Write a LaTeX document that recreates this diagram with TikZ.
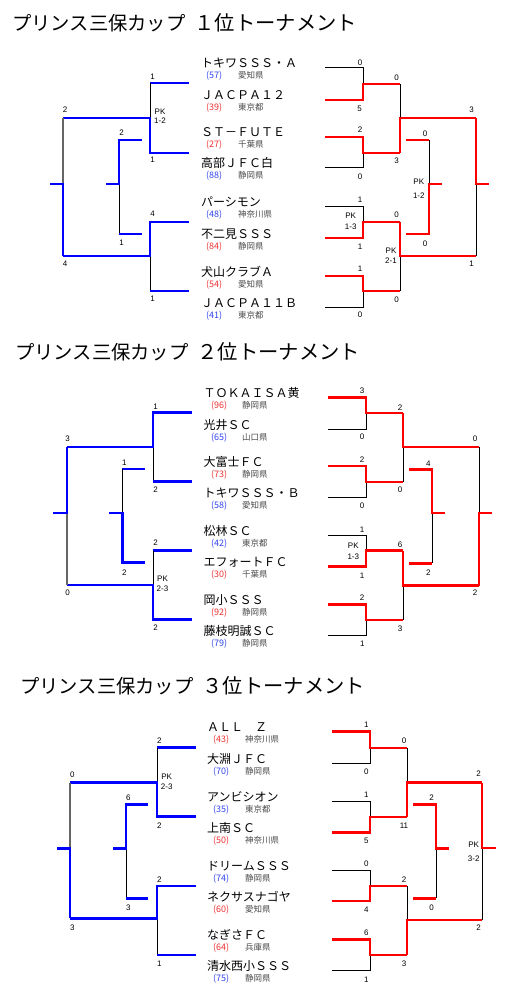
\documentclass[tikz,border=0pt]{standalone}
\usepackage{fontspec}
\setmainfont{Noto Sans CJK JP}
\newfontfamily\numfont{Liberation Sans}
\definecolor{winB}{RGB}{0,0,255}
\definecolor{winR}{RGB}{255,0,0}
\definecolor{seedB}{RGB}{50,70,240}
\definecolor{seedR}{RGB}{240,50,50}
\newcommand\rankpart[1]{{\fontsize{20.3}{22}\selectfont #1}}
\tikzset{
  wonB/.style={draw=winB,line width=2.8pt},
  wonR/.style={draw=winR,line width=2.8pt},
  lost/.style={draw=black,line width=1pt},
  lostG/.style={draw=black!60,line width=1.6pt},
  score/.style={font=\numfont\fontsize{8}{9.5}\selectfont,inner sep=0pt},
  pk/.style={score,align=center},
  team/.style={anchor=base west,inner sep=0pt,font=\fontsize{12}{14}\selectfont},
  seed/.style={anchor=base west,inner sep=0pt,font=\fontsize{9}{10}\selectfont},
  pref/.style={anchor=base west,inner sep=0pt,font=\fontsize{8.5}{10}\selectfont,text=black!70},
  title/.style={anchor=west,inner sep=0pt,font=\fontsize{19.3}{22}\selectfont}
}
\begin{document}
\begin{tikzpicture}[x=1pt,y=-1pt]
\useasboundingbox (0,0) rectangle (517,1000);
\fill[white] (0,0) rectangle (517,1000);

% ---- 1位トーナメント ----
\node[title] (ttl1) at (12,22.5) {プリンス三保カップ\hspace{9pt}\rankpart{１位トーナメント}};
\foreach \y/\tm/\sd/\col/\pf [count=\i] in {68/トキワＳＳＳ・Ａ/57/seedB/愛知県, 100/ＪＡＣＰＡ１２/39/seedR/東京都, 137/ＳＴ－ＦＵＴＥ/27/seedR/千葉県, 168/高部ＪＦＣ白/88/seedB/静岡県, 207/パーシモン/48/seedB/神奈川県, 238/不二見ＳＳＳ/84/seedR/静岡県, 276/犬山クラブＡ/54/seedR/愛知県, 307/ＪＡＣＰＡ１１Ｂ/41/seedB/東京都}{
  \node[team] (a\i) at (201,\y) {\tm};
  \node[seed,text=\col] (a\i-sd) at (206,\y+11) {(\sd)};
  \node[pref] (a\i-pf) at (238,\y+11) {\pf};
}
% left side
\draw[wonB] (189,83)--(150,83);
\draw[lost] (150,83)--(150,118);
\draw[wonB] (189,153)--(150,153)--(150,118)--(63,118);
\draw[lost] (150,256)--(150,291);
\draw[wonB] (189,222)--(150,222)--(150,256)--(63,256);
\draw[wonB] (189,291)--(150,291);
\draw[lostG] (63,118)--(63,184);
\draw[wonB] (63,256)--(63,184)--(50,184);
\draw[lost] (119,184)--(119,234);
\draw[wonB] (142,140)--(119,140)--(119,184)--(106,184);
\draw[wonB] (142,234)--(119,234);
% right side
\draw[lost] (325,68)--(363,68)--(363,84);
\draw[wonR] (325,100)--(363,100)--(363,84)--(400,84);
\draw[lost] (325,168)--(363,168)--(363,153);
\draw[wonR] (325,137)--(363,137)--(363,153)--(400,153);
\draw[lost] (325,207)--(363,207)--(363,222);
\draw[wonR] (325,238)--(363,238)--(363,222)--(400,222);
\draw[lost] (325,307)--(363,307)--(363,291);
\draw[wonR] (325,276)--(363,276)--(363,291)--(400,291);
\draw[lost] (400,84)--(400,118);
\draw[wonR] (400,153)--(400,118)--(476,118);
\draw[lost] (400,291)--(400,256);
\draw[wonR] (400,222)--(400,256)--(476,256);
\draw[lost] (476,256)--(476,184);
\draw[wonR] (476,118)--(476,184)--(489,184);
\draw[lost] (429,140)--(429,184);
\draw[wonR] (406,140)--(429,140);
\draw[wonR] (406,234)--(429,234)--(429,184)--(442,184);
\foreach \x/\y/\t [count=\i] in {152.7/76.7/1, 152.7/160/1, 152.7/214/4, 152.7/298.3/1, 65/110/2, 65/263.3/4, 121.7/132.5/2, 121.7/243/1, 360/62.7/0, 359.5/108.3/5, 360/130/2, 360/176.7/0, 360/200/1, 360/246.7/1, 360/268.3/1, 360/315/0, 396.7/77.7/0, 396.7/161/3, 396.7/215/0, 396.7/299.3/0, 471.7/110/3, 471.7/263.3/1, 425/133.3/0, 425/243.3/0}
  \node[score] (a-s\i) at (\x,\y) {\t};
\node[pk] (a-pk1) at (160,116.5) {PK\\1-2};
\node[pk] (a-pk2) at (350.7,221.5) {PK\\[2pt]1-3};
\node[pk] (a-pk3) at (391,255.7) {PK\\2-1};
\node[pk] (a-pk4) at (418.8,188.7) {PK\\[4pt]1-2};

% ---- 2位トーナメント ----
\node[title] (ttl2) at (15,351.7) {プリンス三保カップ\hspace{9pt}\rankpart{２位トーナメント}};
\foreach \y/\tm/\sd/\col/\pf [count=\i] in {397.7/ＴＯＫＡＩＳＡ黄/96/seedR/静岡県, 429/光井ＳＣ/65/seedB/山口県, 466/大富士ＦＣ/73/seedR/静岡県, 497.7/トキワＳＳＳ・Ｂ/58/seedB/愛知県, 535/松林ＳＣ/42/seedB/東京都, 566.7/エフォートＦＣ/30/seedR/千葉県, 604.3/岡小ＳＳＳ/92/seedR/静岡県, 635/藤枝明誠ＳＣ/79/seedB/静岡県}{
  \node[team] (b\i) at (203.5,\y) {\tm};
  \node[seed,text=\col] (b\i-sd) at (211,\y+11) {(\sd)};
  \node[pref] (b\i-pf) at (242,\y+11) {\pf};
}
% left side
\draw[lost] (153,447)--(153,481.7);
\draw[wonB] (192,412.3)--(153,412.3)--(153,447)--(67,447);
\draw[wonB] (192,481.7)--(153,481.7);
\draw[wonB] (192,550.7)--(153,550.7);
\draw[lost] (153,550.7)--(153,585);
\draw[wonB] (192,619.3)--(153,619.3)--(153,585)--(67,585);
\draw[lostG] (67,513)--(67,585);
\draw[wonB] (67,447)--(67,513)--(53.3,513);
\draw[wonB] (145,469)--(122.3,469);
\draw[lost] (122.3,469)--(122.3,513);
\draw[wonB] (145,562.7)--(122.3,562.7)--(122.3,513)--(109,513);
% right side
\draw[lost] (328,429)--(366,429)--(366,413);
\draw[wonR] (328,397.7)--(366,397.7)--(366,413)--(403,413);
\draw[lost] (328,497.7)--(366,497.7)--(366,482);
\draw[wonR] (328,466)--(366,466)--(366,482)--(403,482);
\draw[lost] (328,535)--(366,535)--(366,550.5);
\draw[wonR] (328,566.7)--(366,566.7)--(366,550.5)--(403,550.5);
\draw[lost] (328,635)--(366,635)--(366,620);
\draw[wonR] (328,604.3)--(366,604.3)--(366,620)--(403,620);
\draw[lost] (403,482)--(403,447);
\draw[wonR] (403,413)--(403,447)--(479,447);
\draw[lost] (403,620)--(403,585.5);
\draw[wonR] (403,550.5)--(403,585.5)--(479,585.5);
\draw[lost] (479,447)--(479,513);
\draw[wonR] (479,585.5)--(479,513)--(492,513);
\draw[lost] (432,513)--(432,563.3);
\draw[wonR] (409,469.3)--(432,469.3)--(432,513)--(444.5,513);
\draw[wonR] (409,563.3)--(432,563.3);
\foreach \x/\y/\t [count=\i] in {155.7/406.5/1, 155.7/490/2, 155.7/543/2, 155.7/628/2, 67.7/439/3, 67.7/593/0, 124.3/463/1, 124.3/572.7/2, 362/391/3, 362/436.7/0, 362/460/2, 362/505.7/0, 362/529.3/1, 362/575.7/1, 362/597.5/2, 362.3/643.3/1, 400/407.3/2, 400/490/0, 400/544.3/6, 400/629/3, 475/439/0, 475/593/2, 428.3/463.3/4, 428.3/572.7/2}
  \node[score] (b-s\i) at (\x,\y) {\t};
\node[pk] (b-pk1) at (162.5,583.7) {PK\\[1pt]2-3};
\node[pk] (b-pk2) at (353.3,551.3) {PK\\[1pt]1-3};

% ---- 3位トーナメント ----
\node[title] (ttl3) at (20,686) {プリンス三保カップ\hspace{9pt}\rankpart{３位トーナメント}};
\foreach \y/\tm/\sd/\col/\pf [count=\i] in {731.7/ＡＬＬ　Ｚ/43/seedR/神奈川県, 763.3/大淵ＪＦＣ/70/seedB/静岡県, 801/アンビシオン/35/seedB/東京都, 832.3/上南ＳＣ/50/seedR/神奈川県, 870/ドリームＳＳＳ/74/seedB/静岡県, 901/ネクサスナゴヤ/60/seedR/愛知県, 939.3/なぎさＦＣ/64/seedR/兵庫県, 970.7/清水西小ＳＳＳ/75/seedB/静岡県}{
  \node[team] (c\i) at (207,\y) {\tm};
  \node[seed,text=\col] (c\i-sd) at (213,\y+11) {(\sd)};
  \node[pref] (c\i-pf) at (245,\y+11) {\pf};
}
% left side
\draw[wonB] (196,747.7)--(157,747.7);
\draw[lost] (157,747.7)--(157,782.7);
\draw[wonB] (196,816.7)--(157,816.7)--(157,782.7)--(70,782.7);
\draw[lost] (157,918.3)--(157,955);
\draw[wonB] (196,886)--(157,886)--(157,918.3)--(70,918.3);
\draw[wonB] (196,955)--(157,955);
\draw[lostG] (70,782.7)--(70,848.3);
\draw[wonB] (70,918.3)--(70,848.3)--(56.7,848.3);
\draw[lost] (126,848.3)--(126,898.3);
\draw[wonB] (148.3,804.3)--(126,804.3)--(126,848.3)--(113.3,848.3);
\draw[wonB] (148.3,898.3)--(126,898.3);
% right side
\draw[lost] (332,763.3)--(370,763.3)--(370,748);
\draw[wonR] (332,731.7)--(370,731.7)--(370,748)--(407,748);
\draw[lost] (332,801)--(370,801)--(370,817);
\draw[wonR] (332,832.3)--(370,832.3)--(370,817)--(407,817);
\draw[lost] (332,870)--(370,870)--(370,886);
\draw[wonR] (332,901)--(370,901)--(370,886)--(407,886);
\draw[lost] (332,970.7)--(370,970.7)--(370,955);
\draw[wonR] (332,939.3)--(370,939.3)--(370,955)--(407,955);
\draw[lost] (407,748)--(407,782.5);
\draw[wonR] (407,817)--(407,782.5)--(482,782.5);
\draw[lost] (407,886)--(407,920);
\draw[wonR] (407,955)--(407,920)--(482,920);
\draw[lost] (482,920)--(482,848);
\draw[wonR] (482,782.5)--(482,848)--(495.7,848);
\draw[lost] (436,848.3)--(436,898.3);
\draw[wonR] (413,804.3)--(436,804.3)--(436,848.3)--(449,848.3);
\draw[wonR] (413,898.3)--(436,898.3);
\foreach \x/\y/\t [count=\i] in {159.3/741/2, 159.3/825.7/2, 159.3/879.3/2, 159.3/963.3/1, 72.3/774.3/0, 72.3/927.3/3, 128.3/797.3/6, 128.3/907.3/3, 366.3/725/1, 366.3/771.7/0, 366.3/795/1, 366.3/841/5, 366.3/864/0, 366.3/910/4, 366.3/932.3/6, 366.3/979.3/1, 404/741/0, 404/825.7/11, 404/879.3/2, 404/963.3/3, 478.7/774/2, 478.7/927.7/2, 431.7/797.3/2, 431.7/907.3/0}
  \node[score] (c-s\i) at (\x,\y) {\t};
\node[pk] (c-pk1) at (166.7,781.7) {PK\\2-3};
\node[pk] (c-pk2) at (473.7,851.7) {PK\\[4pt]3-2};
\end{tikzpicture}
\end{document}
